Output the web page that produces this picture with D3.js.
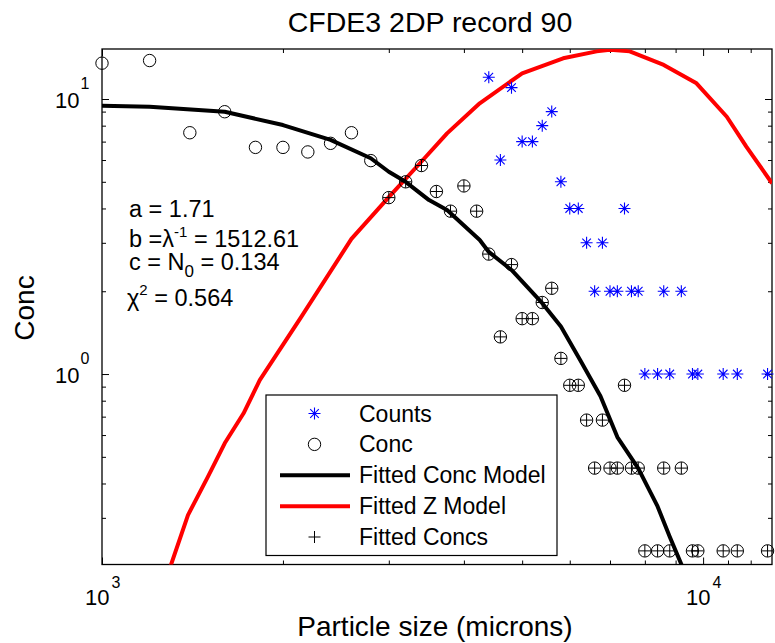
<!DOCTYPE html>
<html>
<head>
<meta charset="utf-8">
<script src="https://cdnjs.cloudflare.com/ajax/libs/d3/7.8.5/d3.min.js"></script>
<style>
  body { margin: 0; background: #fff; }
  svg text { font-family: "Liberation Sans", Arial, Helvetica, sans-serif; fill: #000; }
</style>
</head>
<body>
<svg id="cfde-chart" width="775" height="643"></svg>
<script>
// bin sizes (microns) and measured concentrations
const concSizes = [1000, 1200, 1400, 1600, 1800, 2000, 2200, 2400, 2600, 2800,
  3000, 3200, 3400, 3600, 3800, 4000, 4200, 4400, 4600, 4800,
  5000, 5200, 5400, 5600, 5800, 6000, 6200, 6400, 6600, 6800,
  7000, 7200, 7400, 7600, 7800, 8000, 8400, 8600, 8800, 9200,
  9600, 9800, 10800, 11400, 12800];
const concValues = [13.5, 13.8, 7.54, 8.99, 6.67, 6.67, 6.42, 6.90, 7.54, 5.97,
  4.38, 5.00, 5.73, 4.61, 3.91, 4.83, 3.91, 2.73, 1.365, 2.50,
  1.59, 1.59, 1.82, 2.05, 1.14, 0.91, 0.91, 0.68, 0.455, 0.68,
  0.455, 0.455, 0.91, 0.455, 0.455, 0.2275, 0.2275, 0.455, 0.2275, 0.455,
  0.2275, 0.2275, 0.2275, 0.2275, 0.2275];

// raw counts (the smaller bins are off the top of the axes)
const countSizes = [4400, 4600, 4800, 5000, 5200, 5400, 5600, 5800, 6000, 6200,
  6400, 6600, 6800, 7000, 7200, 7400, 7600, 7800, 8000, 8400,
  8600, 8800, 9200, 9600, 9800, 10800, 11400, 12800];
const counts = [12, 6, 11, 7, 7, 8, 9, 5, 4, 4,
  3, 2, 3, 2, 2, 4, 2, 2, 1, 1,
  2, 1, 2, 1, 1, 1, 1, 1];

// fitted concs start at the 3000 micron bin
const fitStart = 10;
const fittedSizes = concSizes.slice(fitStart);
const fittedConcs = concValues.slice(fitStart);

// fitted conc model curve
const modelSizes = [1000, 1200, 1600, 2000, 2400, 2800, 3000, 3200, 3500, 3750,
  4250, 4400, 4800, 5400, 5800, 6250, 6750, 7200, 7800, 8400, 8800, 9230];
const modelConc = [9.46, 9.38, 8.99, 8.04, 7.10, 6.09, 5.44, 5.00, 4.29, 3.95,
  3.07, 2.78, 2.39, 1.81, 1.49, 1.12, 0.83, 0.59, 0.454, 0.33, 0.256, 0.2];

// fitted Z model curve
const zSizes = [1300, 1390, 1500, 1600, 1720, 1830, 2140, 2600, 3000, 3380,
  3750, 4250, 5000, 5850, 6650, 7000, 7550, 8600, 9750, 10950, 11800, 13020];
const zValues = [0.2, 0.307, 0.423, 0.56, 0.72, 0.95, 1.6, 3.1, 4.4, 5.84,
  7.5, 9.65, 12.4, 14.06, 14.9, 15.1, 14.9, 13.3, 11.4, 8.62, 6.71, 4.94];

const xMajor = [1000, 10000];
const xMinor = [2000, 3000, 4000, 5000, 6000, 7000, 8000, 9000, 11000, 12000];
const yMajor = [1, 10];
const yMinor = [0.3, 0.4, 0.5, 0.6, 0.7, 0.8, 0.9, 2, 3, 4, 5, 6, 7, 8, 9];

const fitA = '1.71';
const fitB = '1512.61';
const fitC = '0.134';
const chiSq = '0.564';

const legendLabels = ['Counts', 'Conc', 'Fitted Conc Model', 'Fitted Z Model', 'Fitted Concs'];

const svgElement = d3.select('svg#cfde-chart');
const plotLeft = 102, plotRight = 772, plotTop = 49, plotBottom = 564.5;

const x = d3.scaleLog().domain([1000, 13020]).range([plotLeft, plotRight]);
const y = d3.scaleLog().domain([0.203, 15.2]).range([plotBottom, plotTop]);

svgElement.append('rect')
  .attr('width', 775).attr('height', 643).attr('fill', '#fff');

svgElement.append('clipPath').attr('id', 'plot-clip')
  .append('rect')
  .attr('x', plotLeft).attr('y', plotTop)
  .attr('width', plotRight - plotLeft).attr('height', plotBottom - plotTop);

// axes (ticks on all four sides, pointing in)
const axisG = svgElement.append('g').attr('class', 'axes');
const addAxis = (axis, transform) => {
  const g = axisG.append('g').attr('transform', transform).call(axis);
  g.select('.domain').remove();
  g.selectAll('line').attr('stroke', '#000');
  return g;
};
[[xMajor, 7], [xMinor, 4]].forEach(([vals, len]) => {
  addAxis(d3.axisBottom(x).tickValues(vals).tickSize(-len).tickFormat(''), `translate(0,${plotBottom})`);
  addAxis(d3.axisTop(x).tickValues(vals).tickSize(-len).tickFormat(''), `translate(0,${plotTop})`);
});
[[yMajor, 7], [yMinor, 4]].forEach(([vals, len]) => {
  addAxis(d3.axisLeft(y).tickValues(vals).tickSize(-len).tickFormat(''), `translate(${plotLeft},0)`);
  addAxis(d3.axisRight(y).tickValues(vals).tickSize(-len).tickFormat(''), `translate(${plotRight},0)`);
});

axisG.append('rect')
  .attr('x', plotLeft).attr('y', plotTop)
  .attr('width', plotRight - plotLeft).attr('height', plotBottom - plotTop)
  .attr('fill', 'none').attr('stroke', '#000').attr('stroke-width', 1.3);

// 10^n tick labels
const expLabel = (g, base, sup, bx, by, sx, sy) => {
  g.append('text').attr('x', bx).attr('y', by).attr('text-anchor', 'end')
    .style('font-size', '22px').text(base);
  g.append('text').attr('x', sx).attr('y', sy)
    .style('font-size', '16px').text(sup);
};
xMajor.forEach((v) => {
  expLabel(axisG, '10', Math.round(Math.log10(v)), x(v) + 7.5, 605, x(v) + 9.5, 588);
});
yMajor.forEach((v) => {
  expLabel(axisG, '10', Math.round(Math.log10(v)), 79.5, y(v) + 8.5, 80.5, y(v) - 10);
});

svgElement.append('text')
  .attr('x', 430).attr('y', 32).attr('text-anchor', 'middle')
  .style('font-size', '28.5px')
  .text('CFDE3 2DP record 90');

svgElement.append('text')
  .attr('x', 435).attr('y', 636).attr('text-anchor', 'middle')
  .style('font-size', '28px')
  .text('Particle size (microns)');

svgElement.append('text')
  .attr('transform', 'translate(34,308) rotate(-90)')
  .attr('text-anchor', 'middle')
  .style('font-size', '28px')
  .text('Conc');

// fitted curves
const line = d3.line()
  .x((d) => x(d[0]))
  .y((d) => y(d[1]));

const curves = svgElement.append('g').attr('clip-path', 'url(#plot-clip)');
curves.append('path')
  .datum(zSizes.map((s, i) => [s, zValues[i]]))
  .attr('d', line)
  .attr('fill', 'none').attr('stroke', '#ff0000')
  .attr('stroke-width', 4).attr('stroke-linejoin', 'round');
curves.append('path')
  .datum(modelSizes.map((s, i) => [s, modelConc[i]]))
  .attr('d', line)
  .attr('fill', 'none').attr('stroke', '#000')
  .attr('stroke-width', 4).attr('stroke-linejoin', 'round');

// markers
const starPath = 'M-6,0H6M0,-6V6M-4.3,-4.3L4.3,4.3M-4.3,4.3L4.3,-4.3';
const plusPath = 'M-6,0H6M0,-6V6';

const markers = svgElement.append('g');
markers.selectAll('.count')
  .data(countSizes.map((s, i) => [s, counts[i]]))
  .enter().append('path')
  .attr('class', 'count')
  .attr('transform', (d) => `translate(${x(d[0])},${y(d[1])})`)
  .attr('d', starPath)
  .attr('stroke', '#0000ff').attr('stroke-width', 1.1).attr('fill', 'none');

markers.selectAll('.conc')
  .data(concSizes.map((s, i) => [s, concValues[i]]))
  .enter().append('circle')
  .attr('class', 'conc')
  .attr('cx', (d) => x(d[0]))
  .attr('cy', (d) => y(d[1]))
  .attr('r', 6.2)
  .attr('fill', 'none').attr('stroke', '#000').attr('stroke-width', 1);

markers.selectAll('.fitted')
  .data(fittedSizes.map((s, i) => [s, fittedConcs[i]]))
  .enter().append('path')
  .attr('class', 'fitted')
  .attr('transform', (d) => `translate(${x(d[0])},${y(d[1])})`)
  .attr('d', plusPath)
  .attr('stroke', '#000').attr('stroke-width', 1).attr('fill', 'none');

// fit parameters
const fitText = svgElement.append('g').style('font-size', '23.5px');
const t1 = fitText.append('text').attr('x', 129).attr('y', 217);
t1.text(`a = ${fitA}`);

const t2 = fitText.append('text').attr('x', 129).attr('y', 246.5);
t2.append('tspan').text('b =\u03bb');
t2.append('tspan').attr('dy', -10).style('font-size', '15px').text('-1');
t2.append('tspan').attr('dy', 10).text(` = ${fitB}`);

const t3 = fitText.append('text').attr('x', 129).attr('y', 270);
t3.append('tspan').text('c = N');
t3.append('tspan').attr('dy', 7).style('font-size', '17px').text('0');
t3.append('tspan').attr('dy', -7).text(` = ${fitC}`);

const t4 = fitText.append('text').attr('x', 127).attr('y', 306);
t4.append('tspan').text('\u03c7');
t4.append('tspan').attr('dy', -11).style('font-size', '15px').text('2');
t4.append('tspan').attr('dy', 11).text(` = ${chiSq}`);

// legend
const legend = svgElement.append('g');
legend.append('rect')
  .attr('x', 266).attr('y', 395)
  .attr('width', 291).attr('height', 160.5)
  .attr('fill', '#fff').attr('stroke', '#000').attr('stroke-width', 1.2);

const legendY = d3.scalePoint().domain(legendLabels).range([413.5, 537]);
legendLabels.forEach((label, i) => {
  const ly = legendY(label);
  if (i === 0) {
    legend.append('path').attr('transform', `translate(314.5,${ly})`).attr('d', starPath)
      .attr('stroke', '#0000ff').attr('stroke-width', 1.1).attr('fill', 'none');
  } else if (i === 1) {
    legend.append('circle').attr('cx', 314.5).attr('cy', ly).attr('r', 6.2)
      .attr('fill', 'none').attr('stroke', '#000');
  } else if (i === 4) {
    legend.append('path').attr('transform', `translate(314.5,${ly})`).attr('d', plusPath)
      .attr('stroke', '#000').attr('fill', 'none');
  } else {
    legend.append('line').attr('x1', 280).attr('x2', 350).attr('y1', ly).attr('y2', ly)
      .attr('stroke', i === 2 ? '#000' : '#ff0000').attr('stroke-width', 4);
  }
  legend.append('text').attr('x', 359).attr('y', ly + 8)
    .style('font-size', '23px').text(label);
});
</script>
</body>
</html>
